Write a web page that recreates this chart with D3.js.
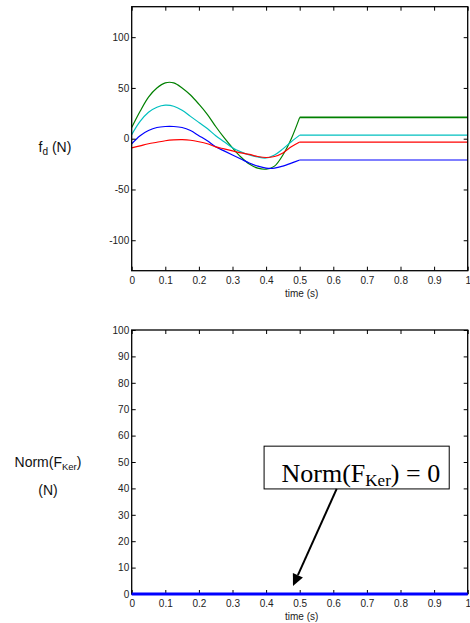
<!DOCTYPE html>
<html>
<head>
<meta charset="utf-8">
<script src="https://cdn.jsdelivr.net/npm/d3@7"></script>
<style>
  body { margin: 0; background: #fff; }
  svg { display: block; font-family: "Liberation Sans", Arial, Helvetica, sans-serif; }
</style>
</head>
<body>
<script>
// Data -----------------------------------------------------------
// sample times (s); the forces stay flat after 0.5 s
const timeSteps = [0, 0.025, 0.05, 0.075, 0.1, 0.125, 0.15, 0.175, 0.2, 0.225, 0.25,
                   0.275, 0.3, 0.325, 0.35, 0.375, 0.4, 0.425, 0.45, 0.475, 0.5, 1];

const greenForce = [11, 27, 41, 50, 55, 55, 50, 43, 34, 24, 12,
                    1, -9, -18, -25, -29, -30, -27, -16, 0, 21, 21];
const cyanForce  = [4, 17, 26, 31, 33, 32, 28, 22, 16, 10, 3,
                    -3, -9, -13, -16, -18, -19, -16, -10, -3, 3.5, 3.5];
const blueForce  = [-5, 3, 8, 11, 12, 12, 11, 8, 3, -2, -8,
                    -12, -16, -20, -24, -27, -29, -29, -27, -24, -21, -21];
const redForce   = [-9, -7, -5, -3.5, -2, -1.2, -1, -1.5, -3, -5, -8,
                    -10, -12, -14, -15.5, -17.5, -18.5, -17.5, -14, -8, -3.3, -3.3];

const seriesColors = ['#008000', '#00bfbf', '#0000ff', '#ff0000'];

// bottom panel: the kernel force norm stays at zero
const normTime   = [0, 1];
const normValues = [0, 0];

const xTicks    = [0, 0.1, 0.2, 0.3, 0.4, 0.5, 0.6, 0.7, 0.8, 0.9, 1];
const fdTicks   = [-100, -50, 0, 50, 100];
const normTicks = [0, 10, 20, 30, 40, 50, 60, 70, 80, 90, 100];

// Layout ----------------------------------------------------------
const width = 470, height = 623;
const plotLeft = 131.7, plotRight = 467.7;
const topPanel = {top: 6.7, bottom: 270.7};
const lowPanel = {top: 330, bottom: 594};

const svg = d3.select('body').append('svg')
      .attr('width', width)
      .attr('height', height);

const x = d3.scaleLinear().domain([0, 1]).range([plotLeft, plotRight]);
const yTop = d3.scaleLinear().domain([-130, 130]).range([topPanel.bottom, topPanel.top]);
const yLow = d3.scaleLinear().domain([0, 100]).range([lowPanel.bottom, lowPanel.top]);

const plain = d => String(d);

// box with inward ticks on all four sides, MATLAB style
const drawFrame = (y, yTicks, panel) => {
  const g = svg.append('g').attr('class', 'frame');

  g.append('g')
    .attr('transform', `translate(0, ${panel.bottom})`)
    .call(d3.axisBottom(x).tickValues(xTicks).tickFormat(plain)
          .tickSizeInner(-4).tickSizeOuter(0).tickPadding(6));

  g.append('g')
    .attr('transform', `translate(0, ${panel.top})`)
    .call(d3.axisTop(x).tickValues(xTicks).tickFormat('')
          .tickSizeInner(-4).tickSizeOuter(0));

  g.append('g')
    .attr('transform', `translate(${plotLeft}, 0)`)
    .call(d3.axisLeft(y).tickValues(yTicks).tickFormat(plain)
          .tickSizeInner(-4).tickSizeOuter(0).tickPadding(2.5));

  g.append('g')
    .attr('transform', `translate(${plotRight}, 0)`)
    .call(d3.axisRight(y).tickValues(yTicks).tickFormat('')
          .tickSizeInner(-4).tickSizeOuter(0));

  g.selectAll('.domain').remove();
  g.selectAll('.tick line').attr('stroke', '#000');
  g.selectAll('.tick text')
    .attr('fill', '#222')
    .style('font-size', '10px');

  g.append('rect')
    .attr('x', plotLeft)
    .attr('y', panel.top)
    .attr('width', plotRight - plotLeft)
    .attr('height', panel.bottom - panel.top)
    .attr('fill', 'none')
    .attr('stroke', '#000')
    .attr('stroke-width', 1.3);

  svg.append('text')
    .attr('x', (plotLeft + plotRight) / 2 + 2)
    .attr('y', panel.bottom + 26)
    .attr('text-anchor', 'middle')
    .style('font-size', '10px')
    .attr('fill', '#222')
    .text('time (s)');
};

// Top panel: f_d curves -------------------------------------------
const allForces = [greenForce, cyanForce, blueForce, redForce];

const smoothLine = d3.line()
      .x(d => x(d[0]))
      .y(d => yTop(d[1]))
      .curve(d3.curveCatmullRom);

const flatLine = d3.line()
      .x(d => x(d[0]))
      .y(d => yTop(d[1]));

const lastIdx = timeSteps.length - 1;

allForces.forEach((vals, i) => {
  const pts = timeSteps.map((t, k) => [t, vals[k]]);
  svg.append('path')
    .attr('d', smoothLine(pts.slice(0, lastIdx)))
    .attr('fill', 'none')
    .attr('stroke', seriesColors[i])
    .attr('stroke-width', 1.2);
  svg.append('path')
    .attr('d', flatLine(pts.slice(lastIdx - 1)))
    .attr('fill', 'none')
    .attr('stroke', seriesColors[i])
    .attr('stroke-width', i === 0 ? 1.8 : 1.2);
});

drawFrame(yTop, fdTicks, topPanel);

// y label f_d (N)
const fdLabel = svg.append('text')
      .attr('x', 55)
      .attr('y', 152)
      .attr('text-anchor', 'middle')
      .style('font-size', '14px')
      .attr('fill', '#111');
fdLabel.append('tspan').text('f');
fdLabel.append('tspan').attr('dy', 3).style('font-size', '10px').text('d');
fdLabel.append('tspan').attr('dy', -3).text(' (N)');

// Bottom panel: Norm(F_Ker) ---------------------------------------
drawFrame(yLow, normTicks, lowPanel);

svg.append('path')
  .attr('d', d3.line().x(d => x(d)).y((d, k) => yLow(normValues[k]))(normTime))
  .attr('fill', 'none')
  .attr('stroke', '#0000ff')
  .attr('stroke-width', 3.2);

const normLabel = svg.append('text')
      .attr('x', 48)
      .attr('y', 467)
      .attr('text-anchor', 'middle')
      .style('font-size', '14px')
      .attr('fill', '#111');
normLabel.append('tspan').text('Norm(F');
normLabel.append('tspan').attr('dy', 3).style('font-size', '9.5px').text('Ker');
normLabel.append('tspan').attr('dy', -3).text(')');

svg.append('text')
  .attr('x', 48)
  .attr('y', 495)
  .attr('text-anchor', 'middle')
  .style('font-size', '14px')
  .attr('fill', '#111')
  .text('(N)');

// annotation box and arrow, placed in data coordinates
const boxX0 = x(0.394), boxX1 = x(0.945);
const boxY0 = yLow(56), boxY1 = yLow(39.8);

svg.append('rect')
  .attr('x', boxX0)
  .attr('y', boxY0)
  .attr('width', boxX1 - boxX0)
  .attr('height', boxY1 - boxY0)
  .attr('fill', '#fff')
  .attr('stroke', '#000')
  .attr('stroke-width', 1);

const note = svg.append('text')
      .attr('x', x(0.446))
      .attr('y', yLow(42.5))
      .style('font-family', '"Liberation Serif", "Times New Roman", serif')
      .style('font-size', '26px')
      .attr('fill', '#000');
note.append('tspan').text('Norm(F');
note.append('tspan').attr('dy', 4.5).style('font-size', '17px').text('Ker');
note.append('tspan').attr('dy', -4.5).text(') = 0');

const tail = [x(0.61), yLow(39.8)];
const tip = [x(0.48), yLow(3)];
const ang = Math.atan2(tip[1] - tail[1], tip[0] - tail[0]);
const headLen = 12, headHalf = 5.5;
const base = [tip[0] - headLen * Math.cos(ang), tip[1] - headLen * Math.sin(ang)];

svg.append('line')
  .attr('x1', tail[0]).attr('y1', tail[1])
  .attr('x2', base[0]).attr('y2', base[1])
  .attr('stroke', '#000')
  .attr('stroke-width', 2);

svg.append('polygon')
  .attr('points', [
    tip,
    [base[0] + headHalf * Math.sin(ang), base[1] - headHalf * Math.cos(ang)],
    [base[0] - headHalf * Math.sin(ang), base[1] + headHalf * Math.cos(ang)]
  ].map(p => p.join(',')).join(' '))
  .attr('fill', '#000');
</script>
</body>
</html>
